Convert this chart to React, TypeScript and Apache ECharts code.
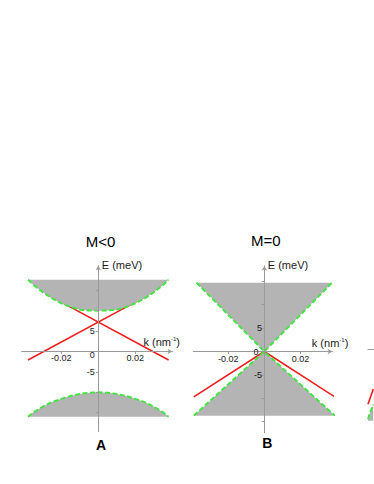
import React, { useEffect, useRef } from 'react';
import * as echarts from 'echarts';

const FONT = '"Liberation Sans", Arial, Helvetica, sans-serif';
const GREY = '#b4b4b4';
const RED = '#f01e1e';
const GREEN = '#3fe63f';
const AXIS = '#9a9a9a';
const TEXT = '#1a1a1a';

// ---- Panel A (M<0) ----
const kA = [-0.038, -0.035, -0.03, -0.025, -0.02, -0.015, -0.01, -0.005, 0, 0.005, 0.01, 0.015, 0.02, 0.025, 0.03, 0.035, 0.038];
const upperBandA = [17.6, 16.3, 14.5, 13.0, 11.8, 10.9, 10.25, 10.05, 10.0, 10.05, 10.25, 10.9, 11.8, 13.0, 14.5, 16.3, 17.6];
const lowerBandA = [-16.0, -14.9, -13.5, -12.4, -11.6, -10.9, -10.4, -10.1, -10.0, -10.1, -10.4, -10.9, -11.6, -12.4, -13.5, -14.9, -16.0];
const surfA1K = [-0.038, 0.021];
const surfA1E = [-2.1, 12.35];
const surfA2K = [0.038, -0.021];
const surfA2E = [-2.1, 12.35];

// ---- Panel B (M=0) ----
const kBUp = [-0.0375, 0, 0.0375];
const upperConeB = [14.7, 0, 14.7];
const kBLo = [-0.039, 0, 0.039];
const lowerConeB = [-13.7, 0, -13.7];
const surfBK = [-0.039, 0, 0.039];
const surfBE = [-9.7, 0, -9.7];

// ---- Panel C (cut off at right edge) ----
const kC = [-0.0414, -0.0389, -0.035, -0.03];
const bandC = [-17.1, -16.1, -14.9, -13.5];
const floorC = -17.45;
const surfCK = [-0.0414, -0.03];
const surfCE = [-13.4, -9.7];

// ---- ticks / labels ----
const kTicks = [-0.02, 0.02];
const eTicks = [-15, -10, -5, 5, 10, 15];
const eLabels = [-5, 0, 5];
const titles = ['M<0', 'M=0'];
const panelLetters = ['A', 'B'];

// axis ranges per panel
const kRange = [[-0.0414, 0.0401], [-0.03927, 0.03772], [-0.0414, 0.0401]];
const eRange = [[-19.66, 21.08], [-17.41, 18.31], [-19.66, 21.08]];
const grids = [
  { left: 21.7, top: 265.5, width: 150.8, height: 166.2 },
  { left: 193.3, top: 265.8, width: 139.2, height: 167.2 },
  { left: 368, top: 263.5, width: 150.8, height: 166.2 },
];

const zip = (k: number[], e: number[]) => k.map((x, i) => [x, e[i]]);

const bandSeries = (grid: number, points: number[][]) => ({
  type: 'custom',
  coordinateSystem: 'cartesian2d',
  xAxisIndex: grid,
  yAxisIndex: grid,
  silent: true,
  z: 2,
  data: [[0, 0]],
  renderItem: (_p: any, api: any) => ({
    type: 'polygon',
    shape: { points: points.map((p) => api.coord(p)) },
    style: { fill: GREY },
  }),
});

const lineSeries = (grid: number, data: number[][], color: string, dashed: boolean) => ({
  type: 'line',
  xAxisIndex: grid,
  yAxisIndex: grid,
  data,
  symbol: 'none',
  showSymbol: false,
  clip: false,
  silent: true,
  z: dashed ? 3 : 1,
  lineStyle: { color, width: dashed ? 1.9 : 1.6, type: dashed ? [5, 2.5] : 'solid', cap: 'butt' },
});

const nameRich = {
  a: { fontSize: 11, fontFamily: FONT, color: TEXT, lineHeight: 12 },
  s: { fontSize: 6, fontFamily: FONT, color: TEXT, lineHeight: 7, verticalAlign: 'top' },
};

// x axis moved from the grid bottom up to E = 0
const makeX = (grid: number, nameGap: number, show = true) => {
  const [min, max] = kRange[grid];
  const [emin, emax] = eRange[grid];
  const offset = -((0 - emin) / (emax - emin)) * grids[grid].height;
  return {
    gridIndex: grid,
    type: 'value',
    position: 'bottom',
    offset,
    min,
    max,
    z: 5,
    splitLine: { show: false },
    axisLine: {
      show: true,
      onZero: false,
      lineStyle: { color: AXIS, width: 1 },
      symbol: show ? ['none', 'arrow'] : ['none', 'none'],
      symbolSize: [4, 5],
    },
    axisTick: { show, length: 2.5, customValues: kTicks, lineStyle: { color: AXIS } },
    axisLabel: {
      show,
      customValues: kTicks,
      formatter: (v: number) => v.toFixed(2),
      margin: 2,
      fontSize: 9,
      lineHeight: 10,
      color: TEXT,
      fontFamily: FONT,
    },
    name: show ? '{a|k (nm}{s|-1}{a|)}' : '',
    nameLocation: 'end',
    nameGap,
    nameTextStyle: { align: 'right', verticalAlign: 'bottom', padding: [0, 0, 3, 0], rich: nameRich },
  };
};

// y axis moved from the grid left edge right to k = 0
const makeY = (grid: number, margin: number, zeroPad: number[], show = true) => {
  const [min, max] = eRange[grid];
  const [kmin, kmax] = kRange[grid];
  const offset = -((0 - kmin) / (kmax - kmin)) * grids[grid].width;
  return {
    gridIndex: grid,
    type: 'value',
    position: 'left',
    offset,
    min,
    max,
    z: 5,
    show,
    splitLine: { show: false },
    axisLine: {
      show: true,
      onZero: false,
      lineStyle: { color: AXIS, width: 1 },
      symbol: ['none', 'arrow'],
      symbolSize: [4, 5],
    },
    axisTick: { show: true, length: 2.5, customValues: eTicks, lineStyle: { color: AXIS } },
    axisLabel: {
      customValues: eLabels,
      formatter: (v: number) => (v === 0 ? '{z|0}' : String(v)),
      margin,
      fontSize: 9,
      lineHeight: 10,
      color: TEXT,
      fontFamily: FONT,
      rich: { z: { fontSize: 9, lineHeight: 10, color: TEXT, fontFamily: FONT, padding: zeroPad } },
    },
    name: 'E (meV)',
    nameLocation: 'end',
    nameGap: 1,
    nameTextStyle: {
      align: 'left',
      verticalAlign: 'middle',
      padding: [0, 0, 0, 3.5],
      fontSize: 11,
      lineHeight: 12,
      fontFamily: FONT,
      color: TEXT,
    },
  };
};

const textEl = (text: string, x: number, y: number, size: number, bold = false) => ({
  type: 'text',
  x,
  y,
  silent: true,
  style: {
    text,
    fill: '#000',
    font: `${bold ? 'bold ' : ''}${size}px ${FONT}`,
    align: 'center',
    verticalAlign: 'middle',
  },
});

const option: any = {
  animation: false,
  backgroundColor: '#ffffff',
  grid: grids,
  xAxis: [makeX(0, 7.5), makeX(1, 15.8), makeX(2, 0, false)],
  yAxis: [
    makeY(0, 3.5, [8, 0, 0, 0]),
    makeY(1, 2.2, [0, 3.5, 0, 0]),
    makeY(2, 3, [0, 0, 0, 0], false),
  ],
  graphic: [
    textEl(titles[0], 100.5, 241.5, 15),
    textEl(titles[1], 265.8, 240.5, 15),
    textEl(panelLetters[0], 101, 445, 14, true),
    textEl(panelLetters[1], 267.3, 443.3, 14, true),
  ],
  series: [
    // Panel A
    lineSeries(0, zip(surfA1K, surfA1E), RED, false),
    lineSeries(0, zip(surfA2K, surfA2E), RED, false),
    bandSeries(0, zip(kA, upperBandA)),
    bandSeries(0, zip(kA, lowerBandA)),
    lineSeries(0, zip(kA, upperBandA), GREEN, true),
    lineSeries(0, zip(kA, lowerBandA), GREEN, true),
    // Panel B
    bandSeries(1, zip(kBUp, upperConeB)),
    bandSeries(1, zip(kBLo, lowerConeB)),
    lineSeries(1, zip(surfBK, surfBE), RED, false),
    lineSeries(1, zip(kBUp, upperConeB), GREEN, true),
    lineSeries(1, zip(kBLo, lowerConeB), GREEN, true),
    // Panel C
    lineSeries(2, zip(surfCK, surfCE), RED, false),
    bandSeries(2, [...zip(kC, bandC), [kC[kC.length - 1], floorC], [kC[0], floorC]]),
    lineSeries(2, zip(kC, bandC), GREEN, true),
  ],
};

export default function App() {
  const ref = useRef<HTMLDivElement>(null);
  useEffect(() => {
    if (!ref.current) return;
    const chart = echarts.init(ref.current, null, { renderer: 'svg' });
    chart.setOption(option);
    return () => chart.dispose();
  }, []);
  return (
    <div
      ref={ref}
      style={{ position: 'fixed', left: 0, top: 0, width: 374, height: 484, background: '#fff' }}
    />
  );
}
